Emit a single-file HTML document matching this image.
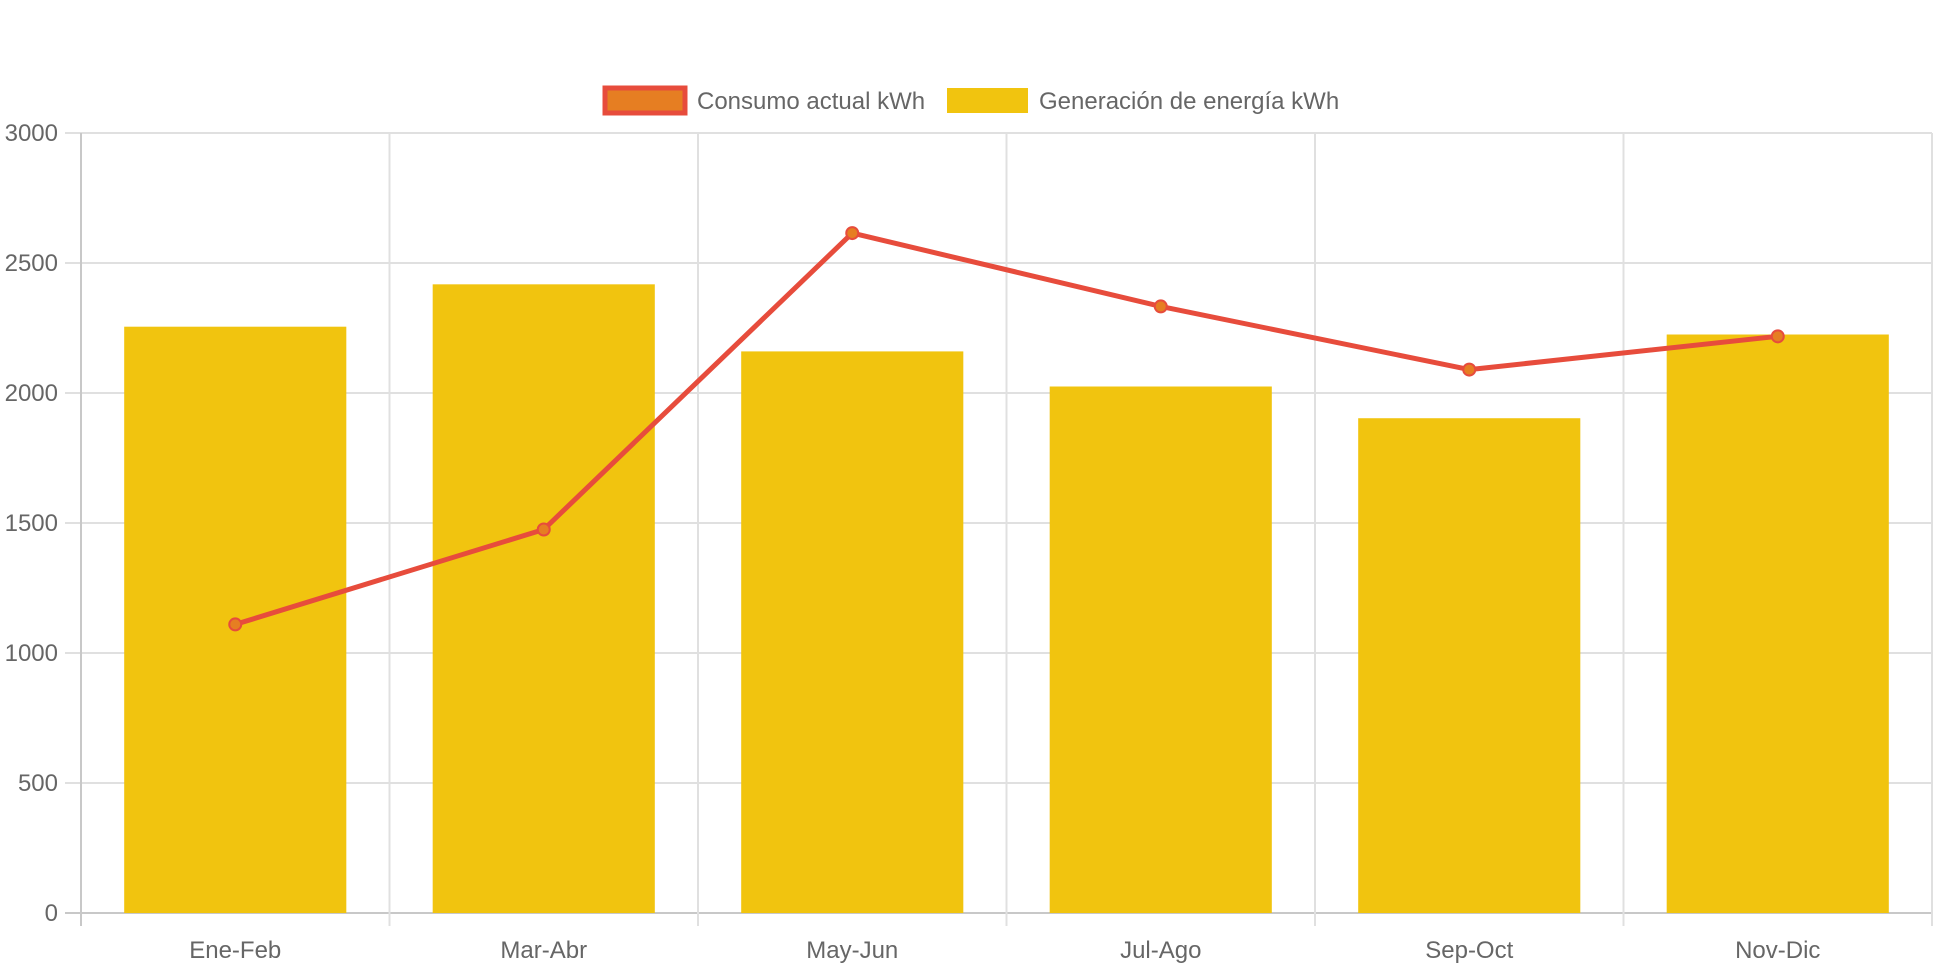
<!DOCTYPE html>
<html><head><meta charset="utf-8"><style>
html,body{margin:0;padding:0;background:#fff;}
svg{display:block;font-family:"Liberation Sans",sans-serif;}
</style></head><body>
<svg id="chart" width="1942" height="970"></svg>
<script>
const categories=["Ene-Feb","Mar-Abr","May-Jun","Jul-Ago","Sep-Oct","Nov-Dic"];
const generation=[2255,2418,2160,2025,1903,2225];
const consumption=[1110,1475,2615,2333,2090,2218];
const yTicks=[0,500,1000,1500,2000,2500,3000];
const NS="http://www.w3.org/2000/svg";
const svg=document.getElementById('chart');
const L=81,R=1932,T=133,B=913,yMax=3000;
const cw=(R-L)/categories.length;
function y(v){return B-(v/yMax)*(B-T);}
function xc(i){return L+cw*(i+0.5);}
function mk(tag,attrs,parent){const e=document.createElementNS(NS,tag);for(const k in attrs)e.setAttribute(k,attrs[k]);(parent||svg).appendChild(e);return e;}
yTicks.forEach(t=>{
  const g=mk('line',{x1:L-16,x2:R,y1:y(t),y2:y(t),stroke:t===0?'#c8c8c8':'#e0e0e0','stroke-width':2});
  
  
  const tx=mk('text',{x:58,y:y(t)+8,'text-anchor':'end','font-size':24,fill:'#666'});
  tx.textContent=t;
  
  
});
for(let i=0;i<=categories.length;i++){
  const x=L+cw*i;
  const g=mk('line',{x1:x,x2:x,y1:T,y2:B+13,stroke:i===0?'#c8c8c8':'#e0e0e0','stroke-width':2});
  
  
}
const bw=cw*0.72;
generation.forEach((v,i)=>{
  const r=mk('rect',{x:xc(i)-bw/2,y:y(v),width:bw,height:B-y(v),fill:'#f1c40f'});
  
  
});
categories.forEach((c,i)=>{
  const tx=mk('text',{x:xc(i),y:958,'text-anchor':'middle','font-size':24,fill:'#666'});
  tx.textContent=c;
  
  
});
const pts=consumption.map((v,i)=>xc(i)+','+y(v)).join(' ');
const pl=mk('polyline',{points:pts,fill:'none',stroke:'#e74c3c','stroke-width':5,'stroke-linejoin':'round'});


consumption.forEach((v,i)=>{
  const c=mk('circle',{cx:xc(i),cy:y(v),r:6,fill:'#e67e22',stroke:'#e74c3c','stroke-width':2});
  
  
});
const lg=mk('g',{});


const b1=mk('rect',{x:605,y:88,width:80,height:25,fill:'#e67e22',stroke:'#e74c3c','stroke-width':5},lg);


const t1=mk('text',{x:697,y:109,'font-size':24,fill:'#666'},lg);
t1.textContent='Consumo actual kWh';


const b2=mk('rect',{x:947,y:88,width:81,height:25,fill:'#f1c40f'},lg);


const t2=mk('text',{x:1039,y:109,'font-size':24,fill:'#666'},lg);
t2.textContent='Generación de energía kWh';


</script>
</body></html>
